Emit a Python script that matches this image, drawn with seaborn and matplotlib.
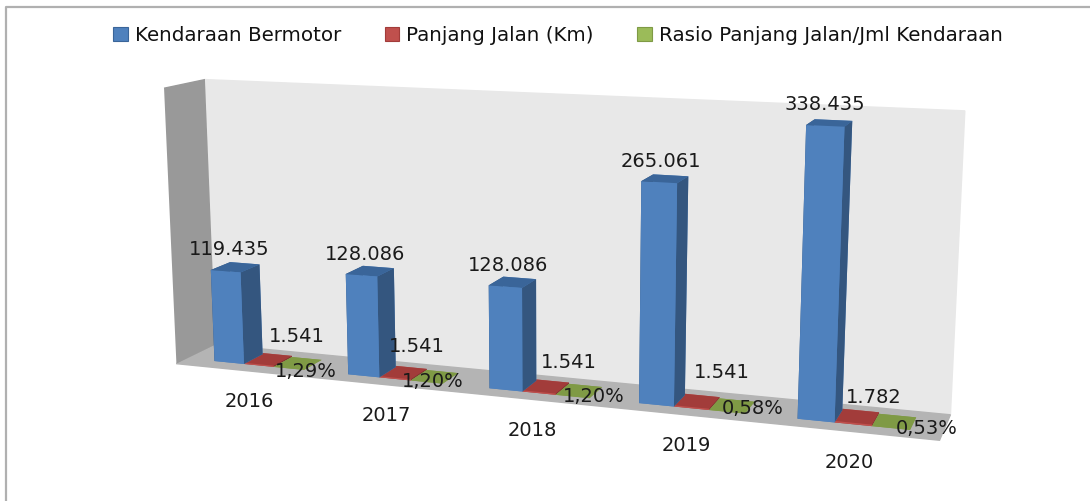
import matplotlib
matplotlib.use('Agg')
import matplotlib.pyplot as plt
import seaborn as sns
from matplotlib.lines import Line2D
from matplotlib.patches import Patch
from mpl_toolkits.mplot3d import proj3d

sns.set_theme(style='white')
plt.rcParams['font.family'] = ['DejaVu Sans']

# Data
years = ['2016', '2017', '2018', '2019', '2020']
kendaraan = [119435, 128086, 128086, 265061, 338435]
panjang_jalan = [1541, 1541, 1541, 1541, 1782]
rasio = [0.0129, 0.0120, 0.0120, 0.0058, 0.0053]
rasio_labels = ['1,29%', '1,20%', '1,20%', '0,58%', '0,53%']
series_names = ['Kendaraan Bermotor', 'Panjang Jalan (Km)', 'Rasio Panjang Jalan/Jml Kendaraan']

W, H = 1090, 501
ZMAX = 352000
BAR_W = 0.225
BAR_X0 = 0.21
BAR_Y0 = 0.27
BAR_D = 0.5
FONT = 14

# labels were nudged by hand in the original, pixel offsets from the bar they belong to
blue_nudge = [(4, 22), (4, 21), (3, 21), (2, 21), (0, 21)]
red_nudge = [(38, 28), (22, 31), (30, 29), (30, 35), (20, 25)]
green_nudge = [(17, -3), (6, 1), (21, 0), (26, 3), (36, 0)]

# colours: bottom, top, front, back, left, right
BLUE = ['#4f81bd', '#3a6599', '#4f81bd', '#4f81bd', '#34567f', '#34567f']
RED = ['#a23c3a', '#a23c3a', '#c0504d', '#c0504d', '#7e3230', '#7e3230']
GREEN = ['#7f9a45', '#7f9a45', '#9bbb59', '#9bbb59', '#657a39', '#657a39']

fig = plt.figure(figsize=(W / 100, H / 100), dpi=100)

# camera and box fitted to the walls of the reference
k = 4509.0
cx, cy = 543.7, 245.9
side = 0.185 * k
ax = fig.add_axes([(cx - 0.095 * k) / W, (H - cy - 0.095 * k) / H, side / W, side / H], projection='3d')
ax.set_proj_type('persp', focal_length=0.3952)
ax.view_init(elev=11.80, azim=-70.66, roll=0.07)
ax.set_box_aspect((1, 0.1041, 0.3677))
ax.set_xlim(0, 5.075)
ax.set_ylim(0, 1)
ax.set_zlim(0, ZMAX)
ax.patch.set_alpha(0)
ax.grid(False)
ax.set_xticks([])
ax.set_yticks([])
ax.set_zticks([])
for axis, col in zip((ax.xaxis, ax.yaxis, ax.zaxis), ('#999999', '#e8e8e8', '#b4b4b4')):
    axis.set_pane_color(col)
    axis.pane.set_edgecolor(col)
    axis.line.set_color((0, 0, 0, 0))


def label_at(x, y, z, text, nudge):
    # project the 3d anchor and write the text in 2d, so it stays plain text
    x2, y2, _ = proj3d.proj_transform(x, y, z, ax.get_proj())
    ax.annotate(text, xy=(x2, y2), xytext=nudge, textcoords='offset pixels', ha='center', va='center',
                fontsize=FONT, color='#1a1a1a', zorder=1000, annotation_clip=False)


for i, year in enumerate(years):
    left = i + BAR_X0
    ax.bar3d(left, BAR_Y0, 0, BAR_W, BAR_D, kendaraan[i], color=BLUE, shade=False, edgecolor='none', linewidth=0)
    ax.bar3d(left + BAR_W, BAR_Y0, 0, BAR_W, BAR_D, panjang_jalan[i], color=RED, shade=False, edgecolor='none', linewidth=0)
    ax.bar3d(left + 2 * BAR_W, BAR_Y0, 0, BAR_W, BAR_D, rasio[i], color=GREEN, shade=False, edgecolor='none', linewidth=0)

    label_at(left + 0.5 * BAR_W, BAR_Y0, kendaraan[i], f'{kendaraan[i]:,}'.replace(',', '.'), blue_nudge[i])
    label_at(left + 1.5 * BAR_W, BAR_Y0, panjang_jalan[i], f'{panjang_jalan[i]:,}'.replace(',', '.'), red_nudge[i])
    label_at(left + 2.5 * BAR_W, BAR_Y0, rasio[i], rasio_labels[i], green_nudge[i])
    label_at(i + 0.55, 0, 0, year, (0, -31))

# legend
handles = [Patch(facecolor=c, edgecolor=e, linewidth=0.8)
           for c, e in (('#4f81bd', '#3a6599'), ('#c0504d', '#a23c3a'), ('#9bbb59', '#7f9a45'))]
fig.legend(handles, series_names, loc='upper center', bbox_to_anchor=(558 / W, 1 - 8 / H), ncol=3,
           frameon=False, fontsize=14.35, handlelength=0.75, handleheight=0.7, handletextpad=0.35,
           columnspacing=2.15, labelcolor='#111111')

# picture border on the top and left
fig.add_artist(Line2D([6 / W, 6 / W, 1], [0, 1 - 6.5 / H, 1 - 6.5 / H], color='#b0b0b0', lw=1.6))

fig.savefig('out.png', dpi=100)
